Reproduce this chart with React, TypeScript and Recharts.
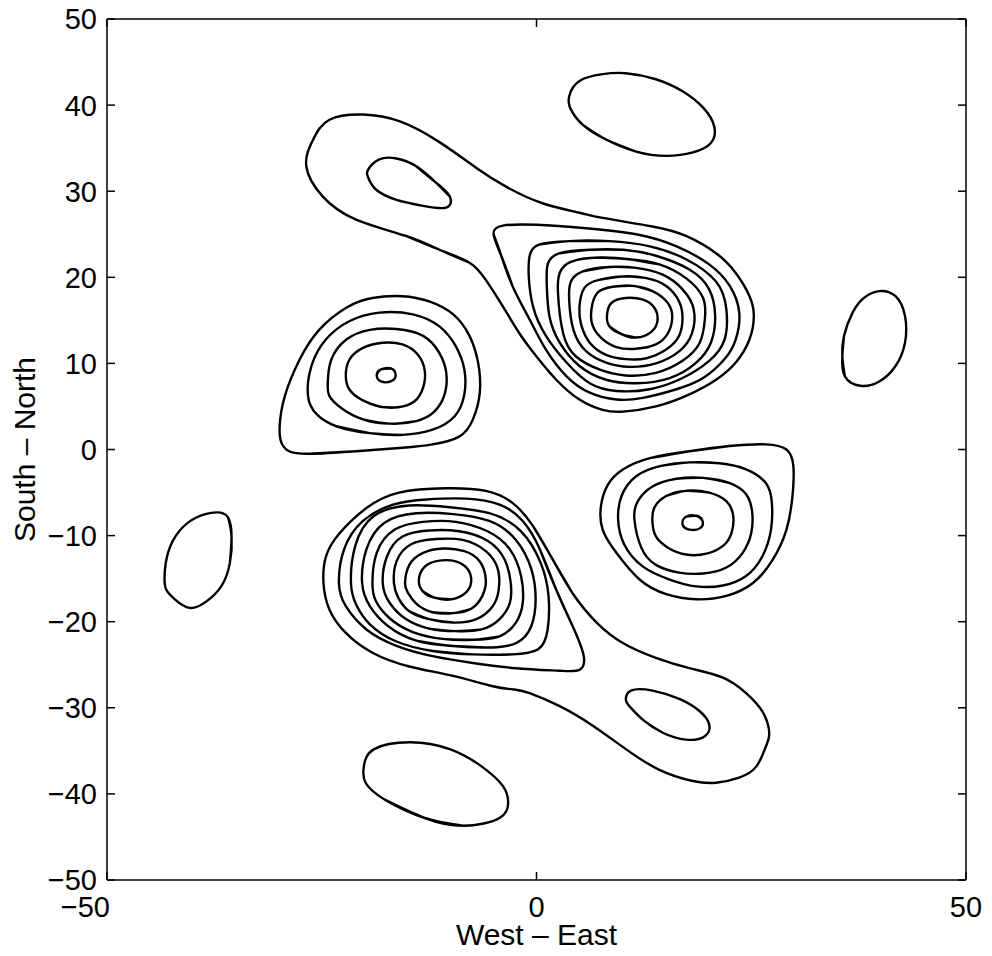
import React from "react";
import { LineChart, Line, XAxis, YAxis, Label } from "recharts";

type Pt = [number, number];

// north-east peak: outer contour (with the arm to the north-west) and its nested rings
const neRing1: Pt[] = [
  [-26.8, 32.9], [-26.0, 36.0], [-24.1, 38.3], [-20.2, 38.9], [-15.9, 38.1], [-11.3, 35.7],
  [-7.0, 32.7], [-3.5, 30.5], [0.7, 28.6], [5.0, 27.5], [7.7, 26.9], [13.5, 25.9],
  [17.4, 24.8], [20.9, 22.8], [23.2, 20.5], [24.8, 17.8], [25.3, 15.5], [24.8, 12.8],
  [23.2, 10.1], [20.9, 8.1], [17.8, 6.4], [13.9, 5.0], [10.1, 4.4], [7.7, 4.6],
  [5.0, 5.8], [2.3, 8.1], [0.0, 10.8], [-2.0, 13.5], [-3.9, 16.6], [-5.9, 19.7],
  [-7.8, 21.7], [-11.3, 23.2], [-15.2, 24.8], [-21.0, 26.7], [-24.9, 29.4],
];
const neRing2: Pt[] = [
  [-5.0, 25.0], [-3.9, 26.0], [0.0, 26.1], [5.8, 25.7], [11.6, 25.0], [16.3, 23.6],
  [20.1, 21.5], [22.5, 19.0], [23.6, 15.9], [23.2, 12.8], [21.9, 10.5], [19.4, 8.3],
  [16.3, 7.0], [12.4, 6.0], [9.3, 5.8], [6.2, 6.6], [3.5, 8.5], [1.1, 11.6],
  [-0.8, 15.1], [-2.8, 19.0], [-4.1, 22.5],
];
const neRing3: Pt[] = [
  [-0.9, 20.1], [-0.8, 22.5], [0.3, 23.8], [3.8, 24.2], [8.5, 24.2], [13.2, 23.6],
  [17.4, 22.1], [20.9, 19.5], [22.1, 16.3], [21.9, 12.8], [20.1, 10.3], [17.0, 8.3],
  [13.2, 7.0], [9.3, 6.8], [6.2, 7.7], [3.5, 10.1], [1.1, 13.2], [-0.4, 16.6],
];
const neRing4: Pt[] = [
  [1.2, 19.0], [1.3, 21.5], [2.7, 22.8], [6.2, 23.2], [10.1, 23.2], [13.9, 22.5],
  [17.8, 20.9], [20.1, 18.6], [20.8, 15.5], [20.3, 12.4], [18.6, 10.1], [15.5, 8.3],
  [11.6, 7.7], [8.1, 8.1], [5.0, 9.7], [2.7, 12.4], [1.5, 15.5],
];
const neRing5: Pt[] = [
  [2.5, 18.2], [2.7, 20.5], [4.0, 21.8], [7.3, 22.3], [10.8, 22.1], [14.3, 21.5],
  [17.4, 19.9], [19.4, 17.6], [19.6, 15.1], [19.0, 12.4], [17.0, 10.3], [13.9, 8.9],
  [10.4, 8.6], [7.3, 9.3], [4.6, 10.8], [3.1, 13.5],
];
const neRing6: Pt[] = [
  [3.8, 17.4], [4.0, 19.5], [5.4, 20.7], [8.5, 21.2], [11.6, 21.1], [14.7, 20.3],
  [17.0, 18.6], [18.3, 16.3], [18.1, 13.5], [16.6, 11.4], [13.9, 10.0], [10.8, 9.6],
  [8.1, 10.1], [5.8, 11.4], [4.3, 13.9],
];
const neRing7: Pt[] = [
  [5.0, 16.6], [5.6, 18.8], [7.3, 19.7], [10.1, 20.1], [12.8, 19.9], [15.1, 19.0],
  [16.6, 17.2], [17.0, 15.3], [16.6, 13.2], [15.1, 11.6], [12.8, 10.6], [10.4, 10.5],
  [8.1, 11.0], [6.2, 12.4], [5.2, 14.5],
];
const neRing8: Pt[] = [
  [6.4, 16.3], [7.1, 18.2], [8.9, 18.9], [11.2, 19.0], [13.5, 18.4], [15.3, 17.0],
  [15.8, 15.3], [15.3, 13.5], [13.9, 12.2], [11.6, 11.7], [9.3, 11.9], [7.5, 13.0],
  [6.5, 14.5],
];
const neRing9: Pt[] = [
  [8.2, 15.5], [8.7, 17.0], [10.4, 17.6], [12.4, 17.4], [13.7, 16.5], [14.1, 15.1],
  [13.4, 13.7], [11.6, 13.0], [9.9, 13.4], [8.5, 14.3],
];

// south-west peak, mirror image of the one above
const swRing1: Pt[] = [
  [-10.6, -4.5], [-5.9, -4.8], [-2.8, -6.2], [-0.4, -8.9], [1.9, -12.8], [4.2, -16.7],
  [7.0, -20.1], [10.1, -22.5], [13.9, -24.2], [17.8, -25.4], [21.7, -26.5], [24.4, -28.3],
  [26.4, -30.6], [27.1, -33.0], [26.7, -34.5], [25.6, -36.8], [23.6, -38.1], [20.9, -38.7],
  [18.2, -38.5], [14.3, -37.2], [10.4, -34.8], [6.6, -32.1], [2.7, -29.8], [-0.8, -28.3],
  [-2.4, -27.9], [-5.1, -27.5], [-9.7, -26.3], [-14.8, -25.2], [-19.1, -23.6], [-22.2, -21.3],
  [-24.1, -18.6], [-24.8, -15.5], [-24.5, -12.4], [-22.9, -9.7], [-19.8, -6.8], [-16.0, -5.0],
];
const swRing2: Pt[] = [
  [-23.0, -15.5], [-22.4, -11.6], [-20.2, -8.3], [-16.7, -6.4], [-12.8, -5.8], [-8.2, -5.7],
  [-4.3, -6.4], [-1.6, -8.3], [0.4, -11.6], [2.3, -16.3], [4.2, -20.5], [5.5, -24.0],
  [5.0, -25.6], [2.7, -25.7], [-2.4, -25.4], [-7.4, -24.8], [-12.1, -24.0], [-16.3, -22.8],
  [-19.8, -20.9], [-22.2, -18.2],
];
const swRing3: Pt[] = [
  [-21.6, -15.5], [-21.1, -11.2], [-18.9, -7.7], [-14.8, -6.5], [-10.1, -6.7], [-5.5, -7.4],
  [-1.8, -9.5], [0.5, -13.2], [1.4, -17.0], [1.3, -20.9], [0.2, -23.2], [-2.8, -23.8],
  [-7.4, -23.8], [-12.1, -23.4], [-16.3, -22.3], [-19.4, -20.3], [-21.0, -18.0],
];
const swRing4: Pt[] = [
  [-20.3, -15.5], [-19.8, -11.6], [-17.7, -8.5], [-14.0, -7.4], [-9.7, -7.5], [-5.5, -8.3],
  [-2.4, -10.5], [-0.6, -13.9], [-0.1, -17.4], [-0.6, -20.5], [-2.4, -22.5], [-5.9, -23.0],
  [-10.1, -22.8], [-14.0, -22.2], [-17.3, -20.5], [-19.4, -18.2],
];
const swRing5: Pt[] = [
  [-19.1, -15.5], [-18.6, -12.0], [-16.5, -9.3], [-13.2, -8.4], [-9.4, -8.4], [-5.7, -9.5],
  [-3.1, -11.6], [-1.8, -14.7], [-1.6, -17.8], [-2.4, -20.1], [-4.3, -21.7], [-7.4, -22.1],
  [-10.9, -22.0], [-14.4, -21.2], [-17.1, -19.6], [-18.7, -17.6],
];
const swRing6: Pt[] = [
  [-17.9, -15.5], [-17.4, -12.4], [-15.6, -10.1], [-12.5, -9.4], [-9.0, -9.5], [-5.7, -10.6],
  [-3.7, -12.8], [-3.0, -15.5], [-3.1, -17.8], [-4.3, -19.7], [-6.4, -20.9], [-9.4, -21.1],
  [-12.5, -20.8], [-15.2, -19.7], [-17.1, -17.8],
];
const swRing7: Pt[] = [
  [-16.6, -15.5], [-16.3, -13.0], [-14.6, -11.0], [-11.7, -10.4], [-8.6, -10.5], [-5.9, -11.8],
  [-4.5, -13.9], [-4.4, -16.3], [-5.1, -18.2], [-7.0, -19.7], [-9.7, -20.1], [-12.5, -19.7],
  [-14.8, -18.8], [-16.1, -17.2],
];
const swRing8: Pt[] = [
  [-15.3, -15.5], [-14.8, -13.4], [-13.2, -12.0], [-10.9, -11.5], [-8.4, -11.8], [-6.6, -13.0],
  [-5.9, -15.1], [-6.3, -17.0], [-7.6, -18.5], [-9.7, -19.0], [-12.1, -18.9], [-14.0, -17.9],
  [-15.0, -16.6],
];
const swRing9: Pt[] = [
  [-13.7, -15.2], [-13.0, -13.6], [-11.3, -12.9], [-9.4, -13.0], [-8.0, -13.9], [-7.6, -15.3],
  [-8.2, -16.6], [-9.9, -17.4], [-11.9, -17.2], [-13.2, -16.5],
];

// western peak
const wRing1: Pt[] = [
  [-29.9, 2.7], [-29.3, 6.2], [-27.6, 10.4], [-25.3, 13.9], [-22.1, 16.5], [-19.1, 17.6],
  [-15.6, 17.8], [-12.5, 17.2], [-9.7, 15.7], [-7.8, 13.2], [-6.8, 10.1], [-6.6, 6.6],
  [-7.4, 3.5], [-9.0, 1.5], [-12.1, 0.6], [-15.6, 0.2], [-21.0, -0.2], [-26.4, -0.5],
  [-28.8, -0.2], [-29.7, 0.8],
];
const wRing2: Pt[] = [
  [-26.6, 6.2], [-26.2, 9.7], [-24.5, 12.8], [-21.8, 14.9], [-18.3, 15.9], [-14.4, 15.7],
  [-11.3, 14.3], [-9.4, 12.0], [-8.4, 9.3], [-8.4, 6.4], [-9.5, 3.9], [-12.1, 2.3],
  [-15.6, 1.7], [-19.4, 1.9], [-23.3, 2.7], [-25.6, 4.1],
];
const wRing3: Pt[] = [
  [-24.3, 7.7], [-23.9, 10.4], [-22.1, 12.8], [-19.4, 13.9], [-16.3, 14.0], [-13.2, 13.2],
  [-11.3, 11.2], [-10.5, 8.9], [-10.7, 6.4], [-11.9, 4.4], [-14.0, 3.3], [-17.1, 3.0],
  [-20.2, 3.5], [-22.7, 4.8], [-24.1, 6.2],
];
const wRing4: Pt[] = [
  [-22.2, 8.5], [-21.8, 10.4], [-20.2, 11.8], [-17.9, 12.4], [-15.6, 12.2], [-13.8, 11.0],
  [-13.0, 9.1], [-13.2, 7.2], [-14.2, 5.6], [-16.1, 4.9], [-18.3, 5.0], [-20.4, 5.8],
  [-21.8, 7.0],
];
const wRing5: Pt[] = [
  [-18.6, 8.7], [-18.1, 9.3], [-16.9, 9.4], [-16.4, 8.7], [-16.8, 8.0], [-18.1, 7.9],
];

// eastern peak
const eRing1: Pt[] = [
  [7.5, -6.6], [8.3, -4.1], [10.1, -2.3], [13.2, -1.0], [17.8, -0.2], [22.5, 0.4],
  [26.7, 0.6], [29.1, 0.0], [29.9, -1.9], [29.8, -5.4], [29.1, -9.3], [27.5, -12.8],
  [25.2, -15.5], [22.1, -17.0], [18.6, -17.4], [15.1, -16.8], [12.0, -15.1], [9.3, -12.0],
  [7.7, -9.3],
];
const eRing2: Pt[] = [
  [9.5, -8.1], [9.9, -5.4], [11.6, -3.1], [14.5, -1.9], [17.8, -1.5], [21.3, -1.6],
  [24.4, -2.3], [26.7, -3.9], [27.4, -6.2], [27.3, -9.3], [26.3, -12.4], [24.4, -14.7],
  [21.7, -15.8], [18.6, -15.9], [15.5, -15.1], [12.4, -13.6], [10.2, -11.0],
];
const eRing3: Pt[] = [
  [11.4, -8.1], [11.8, -6.0], [13.5, -4.3], [16.3, -3.4], [19.4, -3.3], [22.5, -3.9],
  [24.4, -5.2], [25.1, -7.2], [25.0, -9.7], [24.0, -12.0], [22.1, -13.7], [19.4, -14.4],
  [16.6, -14.3], [13.9, -13.4], [12.2, -11.4],
];
const eRing4: Pt[] = [
  [13.5, -8.5], [13.7, -6.8], [15.1, -5.4], [17.4, -4.8], [20.1, -5.0], [22.1, -6.0],
  [22.9, -7.7], [22.7, -9.7], [21.7, -11.2], [19.8, -12.1], [17.4, -12.2], [15.3, -11.4],
  [13.9, -10.1],
];
const eRing5: Pt[] = [
  [17.0, -8.7], [17.4, -7.8], [18.6, -7.7], [19.3, -8.2], [19.1, -9.1], [17.8, -9.3],
];

// small closed contours
const nwSmall: Pt[] = [
  [-19.6, 32.5], [-18.3, 33.7], [-16.3, 33.8], [-14.0, 32.9], [-11.7, 31.0], [-10.1, 29.4],
  [-10.5, 28.1], [-13.2, 28.3], [-16.3, 29.0], [-18.7, 30.2], [-19.6, 31.6],
];
const seSmall: Pt[] = [
  [10.4, -29.0], [11.0, -28.0], [13.5, -28.0], [16.7, -29.0], [19.0, -30.4], [20.1, -31.9],
  [19.6, -33.3], [17.4, -33.7], [14.7, -32.9], [12.4, -31.4], [10.8, -29.8],
];
const northBlob: Pt[] = [
  [3.8, 41.0], [5.0, 42.8], [7.7, 43.6], [10.4, 43.7], [13.9, 43.0], [17.0, 41.6],
  [19.4, 39.7], [20.7, 37.5], [20.3, 35.6], [18.2, 34.5], [15.1, 34.1], [11.6, 34.6],
  [8.1, 36.0], [5.4, 37.7], [4.0, 39.5],
];
const southBlob: Pt[] = [
  [-20.1, -36.8], [-18.9, -34.8], [-14.7, -34.0], [-10.1, -34.8], [-6.4, -36.8], [-3.9, -39.1],
  [-3.3, -41.0], [-4.3, -42.8], [-8.5, -43.7], [-13.0, -42.8], [-17.6, -40.7], [-19.9, -38.7],
];
const eastBlob: Pt[] = [
  [35.8, 13.2], [36.8, 15.9], [38.1, 17.6], [39.9, 18.4], [41.8, 17.8], [42.9, 15.5],
  [42.9, 12.4], [41.8, 9.7], [39.9, 7.9], [37.7, 7.4], [35.9, 8.5], [35.6, 10.8],
];
const westBlob: Pt[] = [
  [-43.3, -14.7], [-42.9, -12.0], [-41.6, -9.5], [-39.6, -7.9], [-37.3, -7.3], [-35.9, -7.9],
  [-35.5, -10.1], [-35.7, -13.2], [-36.7, -15.9], [-38.5, -17.7], [-40.4, -18.4], [-42.1, -17.4],
  [-43.1, -16.3],
];

const contours: Pt[][] = [
  neRing1, neRing2, neRing3, neRing4, neRing5, neRing6, neRing7, neRing8, neRing9,
  swRing1, swRing2, swRing3, swRing4, swRing5, swRing6, swRing7, swRing8, swRing9,
  wRing1, wRing2, wRing3, wRing4, wRing5,
  eRing1, eRing2, eRing3, eRing4, eRing5,
  nwSmall, seSmall, northBlob, southBlob, eastBlob, westBlob,
];

const xTicks = [-50, 0, 50];
const yTicks = [-50, -40, -30, -20, -10, 0, 10, 20, 30, 40, 50];

const FONT = "'Liberation Sans', Arial, Helvetica, sans-serif";

// Start each loop at its flattest vertex and wrap one point on each side,
// so the natural spline closes smoothly where the two ends overlap.
const closeLoop = (pts: Pt[]) => {
  const n = pts.length;
  let best = 0;
  let bestTurn = Infinity;
  for (let i = 0; i < n; i++) {
    const a = pts[(i - 1 + n) % n];
    const b = pts[i];
    const c = pts[(i + 1) % n];
    const t1 = Math.atan2(b[1] - a[1], b[0] - a[0]);
    const t2 = Math.atan2(c[1] - b[1], c[0] - b[0]);
    let d = Math.abs(t2 - t1);
    if (d > Math.PI) d = 2 * Math.PI - d;
    if (d < bestTurn) {
      bestTurn = d;
      best = i;
    }
  }
  const rot = pts.slice(best).concat(pts.slice(0, best));
  return [rot[n - 1], ...rot, rot[0], rot[1]].map(([x, y]) => ({ x, y }));
};

const fmt = (v: number) => (v < 0 ? `\u2212${Math.abs(v)}` : `${v}`);

const YTick = (props: any) => {
  const { x, y, payload } = props;
  return (
    <text x={x} y={y} dy="0.36em" textAnchor="end" fontSize={29} fontFamily={FONT} fill="#000">
      {fmt(payload.value)}
    </text>
  );
};

const XTick = (props: any) => {
  const { x, y, payload } = props;
  const neg = payload.value < 0;
  return (
    <text
      x={neg ? x + 3 : x}
      y={y}
      dy="0.71em"
      textAnchor={neg ? "end" : "middle"}
      fontSize={29}
      fontFamily={FONT}
      fill="#000"
    >
      {fmt(payload.value)}
    </text>
  );
};

const NoTick = () => <g />;

const XTitle = (props: any) => {
  const vb = props.viewBox;
  return (
    <text x={vb.x + vb.width / 2} y={vb.y + 54} dy="0.36em" textAnchor="middle" fontSize={30} fontFamily={FONT} fill="#000">
      West – East
    </text>
  );
};

const YTitle = (props: any) => {
  const vb = props.viewBox;
  const cx = vb.x + 16;
  const cy = vb.y + vb.height / 2;
  return (
    <text
      x={cx}
      y={cy}
      dy="0.36em"
      textAnchor="middle"
      transform={`rotate(-90, ${cx}, ${cy})`}
      fontSize={30}
      fontFamily={FONT}
      fill="#000"
    >
      South – North
    </text>
  );
};

const axisStroke = { stroke: "#000", strokeWidth: 1.5 };

export default function App() {
  return (
    <div style={{ position: "absolute", left: 0, top: 0, background: "#fff", width: 992, height: 956 }}>
      <LineChart width={992} height={956} margin={{ top: 11, right: 18, bottom: 8, left: 8 }}>
        <XAxis
          xAxisId={0}
          type="number"
          dataKey="x"
          domain={[-50, 50]}
          ticks={xTicks}
          interval={0}
          allowDataOverflow
          height={68}
          tickSize={-8}
          tickMargin={24}
          axisLine={axisStroke}
          tickLine={axisStroke}
          tick={<XTick />}
        >
          <Label content={<XTitle />} />
        </XAxis>
        <XAxis
          xAxisId="top"
          orientation="top"
          type="number"
          dataKey="x"
          domain={[-50, 50]}
          ticks={xTicks}
          interval={0}
          allowDataOverflow
          height={8}
          tickSize={-8}
          axisLine={axisStroke}
          tickLine={axisStroke}
          tick={<NoTick />}
        />
        <YAxis
          yAxisId={0}
          type="number"
          dataKey="y"
          domain={[-50, 50]}
          ticks={yTicks}
          interval={0}
          allowDataOverflow
          width={99}
          tickSize={-8}
          tickMargin={18}
          axisLine={axisStroke}
          tickLine={axisStroke}
          tick={<YTick />}
        >
          <Label content={<YTitle />} />
        </YAxis>
        <YAxis
          yAxisId="right"
          orientation="right"
          type="number"
          dataKey="y"
          domain={[-50, 50]}
          ticks={yTicks}
          interval={0}
          allowDataOverflow
          width={8}
          tickSize={-8}
          axisLine={axisStroke}
          tickLine={axisStroke}
          tick={<NoTick />}
        />
        {contours.map((c, i) => (
          <Line
            key={i}
            xAxisId={0}
            yAxisId={0}
            data={closeLoop(c)}
            dataKey="y"
            type="natural"
            stroke="#000"
            strokeWidth={2.4}
            dot={false}
            activeDot={false}
            isAnimationActive={false}
          />
        ))}
      </LineChart>
    </div>
  );
}
